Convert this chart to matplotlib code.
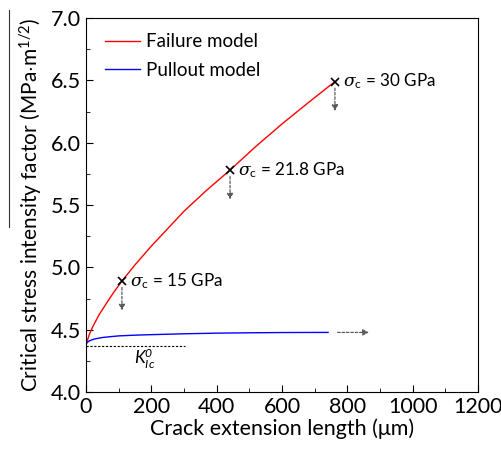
import matplotlib.pyplot as plt
from matplotlib.lines import Line2D

plt.rcParams['font.family'] = ['Lato', 'DejaVu Sans']
plt.rcParams['mathtext.fontset'] = 'custom'
plt.rcParams['mathtext.it'] = 'DejaVu Serif:italic'
plt.rcParams['mathtext.rm'] = 'Lato'
plt.rcParams['mathtext.sf'] = 'Lato:italic'

# curves
failure_x = [0, 5, 10, 20, 30, 40, 55, 67, 85, 110, 150, 200, 250, 300, 370, 441, 520, 600, 680, 762]
failure_y = [4.38, 4.42, 4.46, 4.52, 4.57, 4.62, 4.68, 4.73, 4.80, 4.89, 5.02, 5.17, 5.31, 5.45, 5.62, 5.78, 5.97, 6.15, 6.32, 6.49]
pullout_x = [0, 5, 10, 25, 50, 75, 100, 150, 200, 300, 400, 500, 600, 741]
pullout_y = [4.385, 4.40, 4.41, 4.425, 4.437, 4.444, 4.45, 4.456, 4.46, 4.467, 4.472, 4.475, 4.477, 4.478]

# marked strengths
mark_x = [110, 441, 762]
mark_y = [4.89, 5.78, 6.49]
mark_labels = ['15', '21.8', '30']

k0 = 4.372

fig, ax = plt.subplots(figsize=(5.02, 4.49), dpi=100)
fig.subplots_adjust(left=86/502, right=478/502, top=1-18/449, bottom=1-392/449)

ax.plot(failure_x, failure_y, color='red', lw=1.0, label='Failure model')
ax.plot(pullout_x, pullout_y, color='blue', lw=1.0, label='Pullout model')

ax.plot(mark_x, mark_y, 'x', color='black', ms=6, mew=1.2)
for mx, my, lab in zip(mark_x, mark_y, mark_labels):
    ax.text(mx + 25, my, r'$\sigma_{\rm c}$ = ' + lab + ' GPa', fontsize=12.3, va='center')
    ax.annotate('', xy=(mx, my - 0.26), xytext=(mx, my - 0.03),
                arrowprops=dict(arrowstyle='-|>', ls=(0, (2, 1.5)), color='0.35', lw=0.9,
                                mutation_scale=9))

# K0 reference
ax.plot([0, 303], [k0, k0], ls=(0, (2, 1.5)), color='black', lw=0.8)
ax.text(180, 4.27, r'$\mathsf{K}^{\mathsf{0}}_{\mathsf{Ic}}$', fontsize=12.5, ha='center', va='center')
ax.annotate('', xy=(875, 4.478), xytext=(762, 4.478),
            arrowprops=dict(arrowstyle='-|>', ls=(0, (2, 1.5)), color='0.35', lw=0.9,
                            mutation_scale=9))

ax.set_xlim(0, 1200)
ax.set_ylim(4.0, 7.0)
ax.set_xticks(range(0, 1201, 200))
ax.set_xticks(range(100, 1200, 200), minor=True)
ax.set_yticks([4.0, 4.5, 5.0, 5.5, 6.0, 6.5, 7.0])
ax.set_yticks([4.25, 4.75, 5.25, 5.75, 6.25, 6.75], minor=True)
ax.tick_params(which='both', direction='in', labelsize=15.5)
ax.tick_params(which='major', length=5)
ax.tick_params(which='minor', length=3)
ax.set_xlabel('Crack extension length (\u03bcm)', fontsize=15.5, labelpad=1)
ax.set_ylabel(r'Critical stress intensity factor (MPa$\cdot$m$^{1/2}$)', fontsize=15, labelpad=5)

ax.legend(loc='upper left', bbox_to_anchor=(0.008, 1.0), frameon=False, fontsize=13.5,
          handlelength=1.9, handletextpad=0.3, borderaxespad=0.42, labelspacing=0.6)

fig.add_artist(Line2D([9/502, 9/502], [1-10/449, 1-227/449], color='0.2', lw=0.8))

fig.savefig('out.png', dpi=100)
